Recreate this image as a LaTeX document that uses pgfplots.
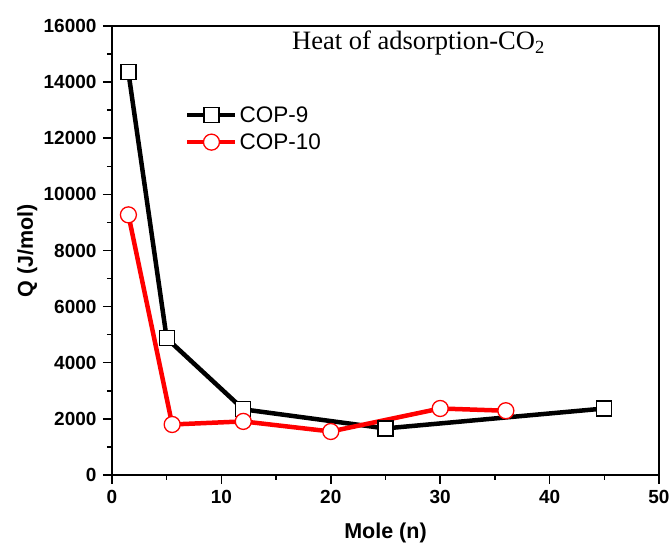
\documentclass[border=0pt]{standalone}
\usepackage{fontspec}
\setmainfont{Liberation Sans}
\newfontfamily\timesfont{Liberation Serif}
\usepackage{pgfplots}
\pgfplotsset{compat=1.18}

\begin{document}
\begin{tikzpicture}
\useasboundingbox (-112pt,-70pt) rectangle (560pt,475pt);
\begin{axis}[scale only axis,width=547pt,height=449pt,
xmin=0,xmax=50,ymin=0,ymax=16000,
xtick={0,10,...,50},ytick={0,2000,...,16000},
minor x tick num=1,minor y tick num=1,
xtick pos=bottom,ytick pos=left,tick align=outside,
major tick length=9pt,minor tick length=5pt,
axis line style={line width=1.5pt},
every tick/.style={line width=1.5pt,black},
scaled y ticks=false,
/pgf/number format/assume math mode=true,
/pgf/number format/1000 sep={},
ticklabel style={font=\fontsize{19}{22}\selectfont\bfseries},
xticklabel style={yshift=-2.5pt},
yticklabel style={xshift=-3pt},
xlabel={Mole (n)},ylabel={Q (J/mol)},
label style={font=\fontsize{21.5}{25}\selectfont\bfseries},
xlabel style={at={(axis description cs:0.5,-0.129)},anchor=center},
ylabel style={at={(axis description cs:-0.155,0.5)},anchor=center},
legend style={at={(axis description cs:0.1335,0.826)},anchor=north west,
  draw=none,fill=none,inner sep=0pt,
  font=\fontsize{22.5}{27}\selectfont,row sep=6pt},
legend cell align=left,
legend image code/.code={\draw[#1] (0pt,0pt) -- (48pt,0pt);
  \draw[#1,only marks] plot coordinates {(24pt,0pt)};}]
\addplot[black,line width=4.5pt,mark=square*,mark size=7.5pt,
  mark options={fill=white,draw=black,line width=1.3pt}]
  coordinates {(1.5,14350) (5,4870) (12,2340) (25,1660) (45,2370)};
\addlegendentry{COP-9}
\addplot[red,line width=4.5pt,mark=*,mark size=8pt,
  mark options={fill=white,draw=red,line width=1.3pt}]
  coordinates {(1.5,9270) (5.5,1800) (12,1910) (20,1550) (30,2370) (36,2290)};
\addlegendentry{COP-10}
\node[anchor=base west,inner sep=0pt,font=\timesfont\fontsize{26.5}{30}\selectfont]
  at (axis cs:16.45,15145) {Heat of adsorption-CO\textsubscript{2}};
\end{axis}
\end{tikzpicture}
\end{document}
